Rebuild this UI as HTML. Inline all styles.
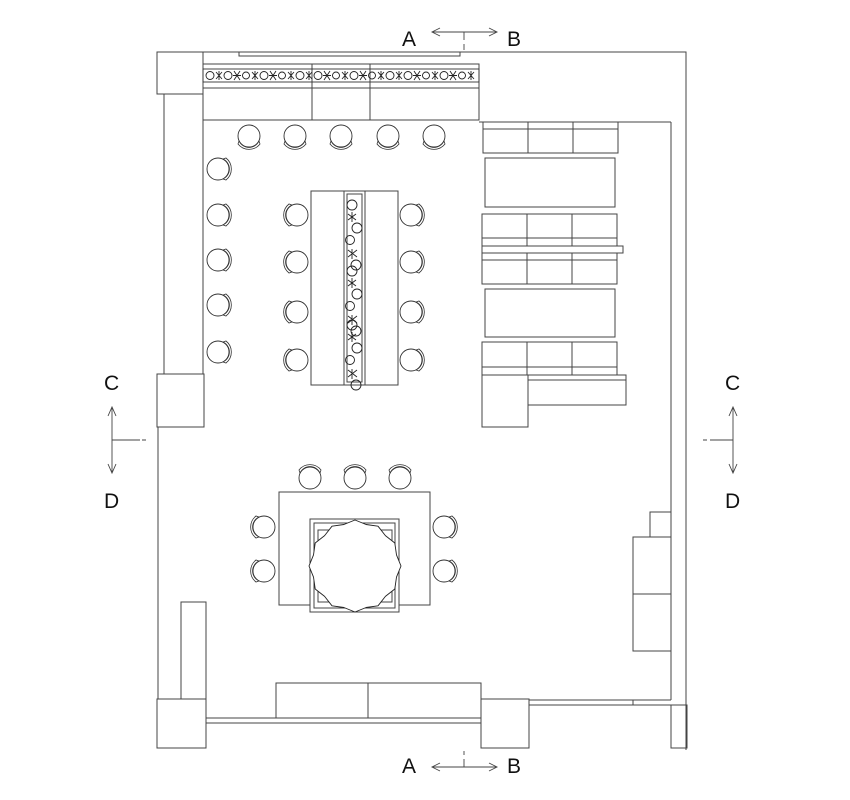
<!DOCTYPE html>
<html><head><meta charset="utf-8"><style>
html,body{margin:0;padding:0;background:#fff;}
svg{display:block;}
text{font-family:"Liberation Sans",sans-serif;font-size:21px;fill:#111;}
</style></head><body>
<svg width="850" height="800" viewBox="0 0 850 800" xmlns="http://www.w3.org/2000/svg">
<defs>
<g id="ch">
<circle cx="0" cy="0" r="11" fill="#fff" stroke="#333" stroke-width="0.9"/>
<path d="M-10,5 A11,11 0 0 0 10,5 L11,8 A14,14 0 0 1 -11,8 Z" fill="#fff" stroke="#333" stroke-width="0.8"/>
</g>
</defs>
<g fill="none" stroke="#444" stroke-width="1">
<path d="M157,52 H686 V750"/>
<rect x="157" y="52" width="46" height="42"/>
<path d="M239,52 V56 H460 V52"/>
<path d="M164,94 V374"/>
<path d="M203,120 V374"/>
<rect x="157" y="374" width="47" height="53"/>
<path d="M158,427 V699"/>
<rect x="157" y="699" width="49" height="49"/>
<rect x="181" y="602" width="25" height="97"/>
<path d="M206,718 H481 M206,723 H481"/>
<rect x="276" y="683" width="205" height="35"/>
<path d="M368,683 V718"/>
<rect x="481" y="699" width="48" height="49"/>
<path d="M529,700 H671 M529,705 H671 M633,700 V705"/>
<rect x="671" y="705" width="16" height="43"/>
<path d="M671,122 V700"/>
<rect x="633" y="537" width="38" height="57"/>
<rect x="633" y="594" width="38" height="57"/>
<rect x="650" y="512" width="21" height="25"/>
<rect x="203" y="64" width="276" height="56"/>
<path d="M203,88 H479 M312,64 V120 M370,64 V120 M479,122 H671"/>
<rect x="483" y="122" width="135" height="31"/>
<path d="M483,129 H618 M528,122 V153 M573,122 V153"/>
<rect x="485" y="158" width="130" height="49"/>
<rect x="482" y="214" width="135" height="70"/>
<path d="M482,238 H617 M482,260 H617 M527,214 V284 M572,214 V284"/>
<rect x="482" y="246" width="141" height="7" fill="#fff"/>
<rect x="485" y="289" width="130" height="48"/>
<rect x="482" y="342" width="135" height="33"/>
<path d="M482,367 H617 M527,342 V375 M572,342 V375"/>
<rect x="482" y="375" width="46" height="52"/>
<rect x="528" y="375" width="98" height="5"/>
<path d="M528,380 V405 H626 V380"/>
<rect x="311" y="191" width="87" height="194"/>
<rect x="344" y="191" width="21" height="194"/>
<rect x="347" y="194" width="15" height="188"/>
<rect x="279" y="492" width="151" height="113"/>
<rect x="310" y="519" width="89" height="93" fill="#fff"/>
<rect x="314" y="523" width="81" height="85"/>
<path d="M318,560 V530 H345 M365,530 H392 V560 M318,575 V602 H345 M365,602 H392 V575"/>
</g>
<g fill="none" stroke="#222" stroke-width="0.9">
<rect x="203" y="69" width="276" height="13" stroke="#333"/>
<g id="pl">
<circle cx="210" cy="75.5" r="4"/><path d="M216,72 l6,7 m0,-7 l-6,7 m3,-8 v9"/><circle cx="228" cy="75.5" r="4"/>
<path d="M234,71 l6,9 m0,-9 l-6,9 m-1,-4.5 h8"/><circle cx="246" cy="75.5" r="3.5"/><path d="M252,72 l6,7 m0,-7 l-6,7 m3,-8 v9"/><circle cx="264" cy="75.5" r="4"/>
<path d="M270,71 l6,9 m0,-9 l-6,9 m-1,-4.5 h8"/><circle cx="282" cy="75.5" r="3.5"/><path d="M288,72 l6,7 m0,-7 l-6,7 m3,-8 v9"/>
</g>
<use href="#pl" x="90"/><use href="#pl" x="180"/>
<g id="vp">
<circle cx="352" cy="205" r="5"/><path d="M348,214 l8,6 m0,-6 l-8,6 m4,-8 v10"/><circle cx="357" cy="228" r="5"/><circle cx="350" cy="240" r="4.5"/>
<path d="M348,250 l9,7 m0,-7 l-9,7 m4,-8 v10"/><circle cx="356" cy="265" r="5"/>
</g>
<use href="#vp" y="66"/><use href="#vp" y="120"/>
</g>
<polygon points="401,566 396.5,577.1 394.8,589 385.4,596.4 378,605.8 366.1,607.5 355,612 343.9,607.5 332,605.8 324.6,596.4 315.2,589 313.5,577.1 309,566 313.5,554.9 315.2,543 324.6,535.6 332,526.2 343.9,524.5 355,520 366.1,524.5 378,526.2 385.4,535.6 394.8,543 396.5,554.9" fill="#fff" stroke="#222" stroke-width="0.9" stroke-linejoin="round"/>
<g>
<use href="#ch" x="249" y="136"/><use href="#ch" x="295" y="136"/><use href="#ch" x="341" y="136"/><use href="#ch" x="388" y="136"/><use href="#ch" x="434" y="136"/>
<use href="#ch" transform="translate(218,169) rotate(-90)"/><use href="#ch" transform="translate(218,215) rotate(-90)"/><use href="#ch" transform="translate(218,260) rotate(-90)"/><use href="#ch" transform="translate(218,305) rotate(-90)"/><use href="#ch" transform="translate(218,352) rotate(-90)"/>
<use href="#ch" transform="translate(297,215) rotate(90)"/><use href="#ch" transform="translate(297,262) rotate(90)"/><use href="#ch" transform="translate(297,312) rotate(90)"/><use href="#ch" transform="translate(297,360) rotate(90)"/>
<use href="#ch" transform="translate(411,215) rotate(-90)"/><use href="#ch" transform="translate(411,262) rotate(-90)"/><use href="#ch" transform="translate(411,312) rotate(-90)"/><use href="#ch" transform="translate(411,360) rotate(-90)"/>
<use href="#ch" transform="translate(310,478) rotate(180)"/><use href="#ch" transform="translate(355,478) rotate(180)"/><use href="#ch" transform="translate(400,478) rotate(180)"/>
<use href="#ch" transform="translate(264,527) rotate(90)"/><use href="#ch" transform="translate(264,571) rotate(90)"/>
<use href="#ch" transform="translate(444,527) rotate(-90)"/><use href="#ch" transform="translate(444,571) rotate(-90)"/>
</g>
<g fill="none" stroke="#444" stroke-width="0.9">
<path d="M432,32 H497 M440,28 L432,32 440,36 M489,28 L497,32 489,36 M464,32 V40 M464,44 V50"/>
<path d="M432,767 H497 M440,763 L432,767 440,771 M489,763 L497,767 489,771 M464,767 V759 M464,755 V751"/>
<path d="M112,407 V473 M108,416 L112,407 116,416 M108,464 L112,473 116,464 M112,440 H140 M142,440 H146"/>
<path d="M733,407 V473 M729,416 L733,407 737,416 M729,464 L733,473 737,464 M733,440 H710 M707,440 H703"/>
</g>
<text x="402" y="46">A</text><text x="507" y="46">B</text>
<text x="402" y="773">A</text><text x="507" y="773">B</text>
<text x="104" y="390">C</text><text x="104" y="508">D</text>
<text x="725" y="390">C</text><text x="725" y="508">D</text>
</svg>
</body></html>
